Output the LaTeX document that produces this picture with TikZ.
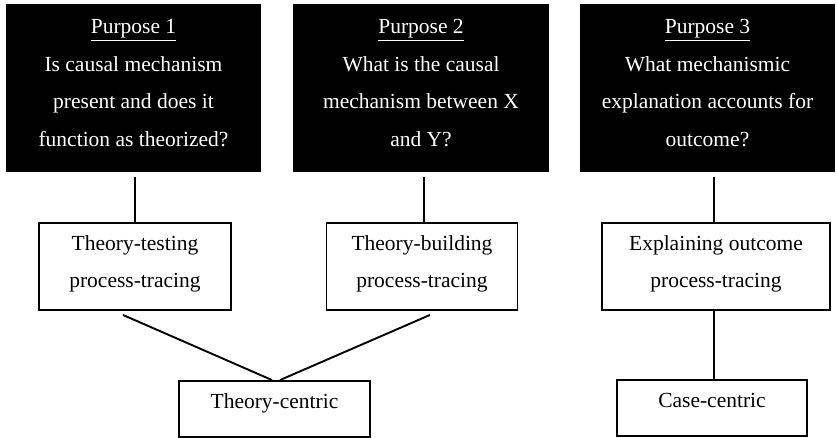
\documentclass[tikz,border=0pt]{standalone}
\usepackage{fontspec}
\setmainfont{Liberation Serif}
\usepackage{tikz}
\usetikzlibrary{positioning}

\begin{document}
\begin{tikzpicture}[x=1pt,y=-1pt,line width=1.9pt,
                    font=\fontsize{21.5}{37.5}\selectfont]
  \tikzstyle{purpose}=[fill=black,draw=none,text=white,align=center,
                       inner sep=0pt,minimum width=255pt,text height=142.5pt,text depth=26pt]
  \tikzstyle{ptbox}=[draw,align=center,inner sep=0pt,minimum width=191pt,
                     text height=64.5pt,text depth=22.5pt]
  \tikzstyle{centric}=[draw,inner sep=0pt,minimum width=191pt,
                       text height=27pt,text depth=29pt]

  \useasboundingbox (0,0) rectangle (837,438);

  \node[purpose] (P1) at (133.5,88.25) {\underline{Purpose 1}\\Is causal mechanism\\present and does it\\function as theorized?};
  \node[purpose,minimum width=256pt] (P2) at (421,88.25) {\underline{Purpose 2}\\What is the causal\\mechanism between X\\and Y?};
  \node[purpose] (P3) at (707.5,88.25) {\underline{Purpose 3}\\What mechanismic\\explanation accounts for\\outcome?};

  \node[ptbox,minimum width=192pt] (TT) at (135,266.5) {Theory-testing\\process-tracing};
  \node[ptbox] (TB) at (422,266.5) {Theory-building\\process-tracing};
  \node[ptbox,minimum width=228pt] (EO) at (716,266.5) {Explaining outcome\\process-tracing};

  \node[centric] (TC) at (274.5,409) {Theory-centric};
  \node[centric,minimum width=190pt] (CC) at (712,408) {Case-centric};

  \draw[shorten <=4pt] (TT.north |- P1.south) -- (TT.north);
  \draw[shorten <=4pt] ([xshift=2pt]TB.north |- P2.south) -- ([xshift=2pt]TB.north);
  \draw[shorten <=4pt] ([xshift=-2pt]EO.north |- P3.south) -- ([xshift=-2pt]EO.north);
  \draw ([xshift=-2pt]EO.south) -- ([xshift=2pt]CC.north);
  \draw ([xshift=-12pt,yshift=-4pt]TT.south) -- ([xshift=-2.5pt]TC.north);
  \draw ([xshift=8pt,yshift=-4pt]TB.south) -- ([xshift=5.5pt]TC.north);
\end{tikzpicture}
\end{document}
